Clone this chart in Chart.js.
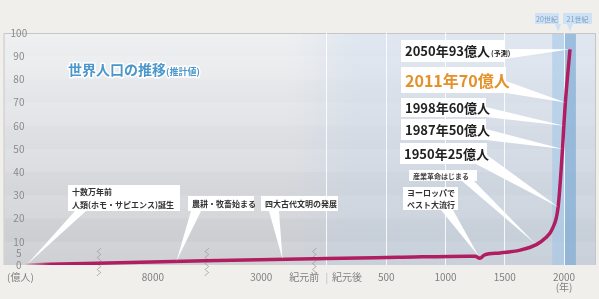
<!DOCTYPE html>
<html>
<head>
<meta charset="utf-8">
<script src="https://cdn.jsdelivr.net/npm/chart.js@4.4.1/dist/chart.umd.min.js"></script>
<style>
  html, body { margin: 0; padding: 0; background: #f0efeb; }
  #wrap { width: 599px; height: 299px; }
</style>
</head>
<body>
<div id="wrap"><canvas id="popChart" width="599" height="299"></canvas></div>
<script>
// World population (億人) by year
const years = [-150000, -20000, -6000, -2000, 0, 600, 1200, 1250, 1290, 1330, 1460, 1630, 1770, 1840, 1900, 1950, 1987, 1998, 2011, 2050];
const population = [0, 0.8, 1.8, 2.7, 2.8, 3.3, 3.8, 3.8, 2.9, 4.4, 5.2, 6.4, 8.9, 11.5, 15.5, 25, 50, 60, 70, 93];

const yTicks = [0, 5, 10, 20, 30, 40, 50, 60, 70, 80, 90, 100];
const xTickValues = [-155500, -8000, -3000, -2190, 0, 170, 500, 1000, 1500, 2000];
const xTickLabels = ['(億人)', '8000', '3000', '紀元前', '|', '紀元後', '500', '1000', '1500', ['2000', '(年)']];
const gridYears = [0, 500, 1000, 1500, 2000];
const breakYears = [-15000, -5000, -2000];

const centuryLabels = ['20世紀', '21世紀'];
const centuryFrom = [1900, 2000];
const centuryTo = [2000, 2100];

// Events pointed at on the curve
const eventTexts = [
  '十数万年前\n人類(ホモ・サピエンス)誕生',
  '農耕・牧畜始まる',
  '四大古代文明の発展',
  'ヨーロッパで\nペスト大流行',
  '産業革命はじまる',
  '1950年25億人',
  '1987年50億人',
  '1998年60億人',
  '2011年70億人',
  '2050年93億人'
];
const eventYears = [-150000, -7100, -2600, 1280, 1760, 1950, 1987, 1998, 2011, 2050];
const eventValues = [0, 1.7, 2.6, 3.8, 9, 25, 50, 60, 70, 93];

// Layout of the callout boxes (pixels)
const calloutLayout = [
  { box: [68, 185, 112, 26], base: [[75, 211], [86, 211]], style: 'small' },
  { box: [188, 196, 66, 15], base: [[191, 211], [201, 211]], style: 'small' },
  { box: [261, 196, 77, 15], base: [[269, 211], [279, 211]], style: 'small' },
  { box: [403, 187, 55, 23], base: [[441, 210], [453, 210]], style: 'small' },
  { box: [409, 170, 68, 11], base: [[462, 181], [474, 181]], style: 'tiny' },
  { box: [400, 143, 87, 21], base: [[476, 164], [487, 155]], style: 'big' },
  { box: [401, 119, 85, 21], base: [[486, 129], [486, 140]], style: 'big' },
  { box: [401, 98, 85, 19], base: [[486, 107], [486, 117]], style: 'big' },
  { box: [401, 67, 105, 26], base: [[506, 81], [506, 93]], style: 'orange' },
  { box: [401, 40, 104, 22], base: [[505, 49], [505, 59]], style: 'big', suffix: '(予測)' }
];
const textStyles = {
  small: { font: 'bold 8px "Noto Sans CJK JP"', color: '#333', lh: 12.5 },
  tiny: { font: 'bold 7px "Noto Sans CJK JP"', color: '#444', lh: 10 },
  big: { font: 'bold 13px "Noto Sans CJK JP"', color: '#222', lh: 15 },
  orange: { font: 'bold 16px "Noto Sans CJK JP"', color: '#e4912a', lh: 18 }
};

// Broken year axis: piecewise linear [year, pixel from left]
const knots = [[-170000, 0], [-150000, 22], [-20000, 93], [-10000, 96], [-6000, 201],
               [-4000, 204], [-2000, 310], [0, 322.7], [2261, 591]];
const knotSpan = knots[knots.length - 1][1];

class BrokenScale extends Chart.LinearScale {
  getPixelForValue(value) {
    let frac = 0;
    if (value <= knots[0][0]) frac = 0;
    else if (value >= knots[knots.length - 1][0]) frac = 1;
    else {
      for (let i = 1; i < knots.length; i++) {
        if (value <= knots[i][0]) {
          const [v0, p0] = knots[i - 1];
          const [v1, p1] = knots[i];
          frac = (p0 + (value - v0) / (v1 - v0) * (p1 - p0)) / knotSpan;
          break;
        }
      }
    }
    return this.left + frac * this.width;
  }
  getValueForPixel(pixel) {
    const p = (pixel - this.left) / this.width * knotSpan;
    for (let i = 1; i < knots.length; i++) {
      if (p <= knots[i][1]) {
        const [v0, p0] = knots[i - 1];
        const [v1, p1] = knots[i];
        return v0 + (p - p0) / (p1 - p0) * (v1 - v0);
      }
    }
    return knots[knots.length - 1][0];
  }
}
BrokenScale.id = 'broken';
Chart.register(BrokenScale);

function lineColor(c) {
  const chart = c.chart;
  const x = chart.scales.x;
  if (!chart.chartArea || !x) return '#b01d60';
  const start = x.getPixelForValue(years[0]);
  const g = chart.ctx.createLinearGradient(start - 2, 0, start + 24, 0);
  g.addColorStop(0, 'rgba(176,29,96,0.1)');
  g.addColorStop(1, '#b01d60');
  return g;
}

const backdrop = {
  id: 'backdrop',
  beforeDraw(chart) {
    const { ctx, chartArea: a, scales: { x, y } } = chart;
    ctx.save();
    ctx.fillStyle = '#f0efeb';
    ctx.fillRect(0, 0, chart.width, chart.height);

    const g = ctx.createLinearGradient(0, a.top, 0, a.bottom);
    g.addColorStop(0, '#eff0f2');
    g.addColorStop(1, '#c8cace');
    ctx.fillStyle = g;
    ctx.fillRect(a.left, a.top, a.width, a.height);

    // soft horizontal bands
    for (let v = 0; v < 100; v += 20) {
      const y1 = y.getPixelForValue(v + 10), y2 = y.getPixelForValue(v);
      ctx.fillStyle = 'rgba(255,255,255,0.13)';
      ctx.fillRect(a.left, y1, a.width, y2 - y1);
    }

    // bluish tint for the AD part
    const x0 = x.getPixelForValue(0);
    const bg = ctx.createLinearGradient(x0 - 40, 0, x0 + 30, 0);
    bg.addColorStop(0, 'rgba(185,208,235,0)');
    bg.addColorStop(1, 'rgba(185,208,235,0.28)');
    ctx.fillStyle = bg;
    ctx.fillRect(x0 - 40, a.top, a.right - x0 + 40, a.height);

    // century columns
    const colColors = ['rgba(160,198,232,0.55)', 'rgba(120,168,212,0.65)'];
    centuryLabels.forEach((lab, i) => {
      const l = x.getPixelForValue(centuryFrom[i]);
      const r = x.getPixelForValue(centuryTo[i]);
      ctx.fillStyle = colColors[i];
      ctx.fillRect(l, a.top, r - l, a.height);
    });

    // frame
    ctx.strokeStyle = '#c6c6c6';
    ctx.lineWidth = 1;
    ctx.beginPath();
    ctx.moveTo(a.left, a.top + 0.5);
    ctx.lineTo(a.right, a.top + 0.5);
    ctx.moveTo(a.left - 0.5, a.top);
    ctx.lineTo(a.left - 0.5, a.bottom);
    ctx.moveTo(a.right + 0.5, a.top);
    ctx.lineTo(a.right + 0.5, a.bottom);
    ctx.stroke();
    ctx.restore();
  },
  beforeDatasetsDraw(chart) {
    const { ctx, chartArea: a, scales: { x } } = chart;
    ctx.save();
    ctx.strokeStyle = '#9a9a9a';
    ctx.lineWidth = 0.8;
    breakYears.forEach(yr => {
      const bx = x.getPixelForValue(yr);
      ctx.beginPath();
      for (let yy = a.bottom - 17; yy <= a.bottom + 11; yy += 0.5) {
        const xx = bx + 1.6 * Math.sin((yy - a.bottom) / 6 * 2 * Math.PI);
        if (yy === a.bottom - 17) ctx.moveTo(xx, yy); else ctx.lineTo(xx, yy);
      }
      ctx.stroke();
    });
    ctx.restore();
  },
  afterDatasetsDraw(chart) {
    const { ctx, chartArea: a, scales: { x, y } } = chart;
    ctx.save();

    // wedges first, then boxes and text
    calloutLayout.forEach((c, i) => {
      const tx = x.getPixelForValue(eventYears[i]);
      const ty = y.getPixelForValue(eventValues[i]);
      ctx.fillStyle = '#ffffff';
      ctx.beginPath();
      ctx.moveTo(c.base[0][0], c.base[0][1]);
      ctx.lineTo(tx, ty);
      ctx.lineTo(c.base[1][0], c.base[1][1]);
      ctx.closePath();
      ctx.fill();
    });
    calloutLayout.forEach((c, i) => {
      const [bx, by, bw, bh] = c.box;
      ctx.fillStyle = '#ffffff';
      ctx.fillRect(bx, by, bw, bh);
      const st = textStyles[c.style];
      const lines = eventTexts[i].split('\n');
      ctx.font = st.font;
      ctx.fillStyle = st.color;
      ctx.textAlign = 'left';
      ctx.textBaseline = 'middle';
      const top = by + bh / 2 - (lines.length - 1) * st.lh / 2;
      lines.forEach((ln, k) => ctx.fillText(ln, bx + 4, top + k * st.lh + 0.5));
      if (c.suffix) {
        const w = ctx.measureText(lines[0]).width;
        ctx.font = 'bold 7px "Noto Sans CJK JP"';
        ctx.fillText(c.suffix, bx + 4 + w + 1, top + 2);
      }
    });

    // century tags in the top band
    const tagBoxes = [[535, 13, 24, 11], [563, 13, 29, 11]];
    centuryLabels.forEach((lab, i) => {
      const cx = (x.getPixelForValue(centuryFrom[i]) + x.getPixelForValue(centuryTo[i])) / 2;
      const [bx, by, bw, bh] = tagBoxes[i];
      ctx.fillStyle = '#cfe2f3';
      ctx.fillRect(bx, by, bw, bh);
      ctx.beginPath();
      ctx.moveTo(cx - 3, by + bh);
      ctx.lineTo(cx + 3, by + bh);
      ctx.lineTo(cx, a.top - 1);
      ctx.closePath();
      ctx.fill();
      ctx.fillStyle = '#7b9fc4';
      ctx.font = '7px "Noto Sans CJK JP"';
      ctx.textAlign = 'center';
      ctx.textBaseline = 'middle';
      ctx.fillText(lab, bx + bw / 2, by + bh / 2 + 0.5);
    });

    // title
    ctx.textAlign = 'left';
    ctx.textBaseline = 'alphabetic';
    ctx.lineJoin = 'round';
    ctx.font = 'bold 14px "Noto Sans CJK JP"';
    ctx.strokeStyle = '#ffffff';
    ctx.lineWidth = 3;
    ctx.strokeText('世界人口の推移', 68, 75);
    ctx.fillStyle = '#4b97cb';
    ctx.fillText('世界人口の推移', 68, 75);
    const tw = ctx.measureText('世界人口の推移').width;
    ctx.font = 'bold 9px "Noto Sans CJK JP"';
    ctx.strokeText('(推計値)', 68 + tw, 75);
    ctx.fillText('(推計値)', 68 + tw, 75);
    ctx.restore();
  }
};

const ctx = document.getElementById('popChart').getContext('2d');
const popChart = new Chart(ctx, {
  type: 'line',
  data: {
    datasets: [{
      data: years.map((yr, i) => ({ x: yr, y: population[i] })),
      borderColor: lineColor,
      borderWidth: 3.5,
      pointRadius: 0,
      cubicInterpolationMode: 'monotone',
      fill: false
    }]
  },
  options: {
    responsive: false,
    animation: false,
    events: [],
    layout: { padding: { top: 33, left: 4, right: 4, bottom: 0 } },
    plugins: { legend: { display: false }, tooltip: { enabled: false } },
    scales: {
      x: {
        type: 'broken',
        min: knots[0][0],
        max: knots[knots.length - 1][0],
        afterFit: s => { s.height = 34; },
        afterBuildTicks: s => { s.ticks = xTickValues.map(v => ({ value: v })); },
        border: { display: false },
        grid: {
          drawTicks: false,
          lineWidth: 1,
          color: c => (c.tick && gridYears.includes(c.tick.value)) ? 'rgba(255,255,255,0.85)' : 'rgba(0,0,0,0)'
        },
        ticks: {
          autoSkip: false,
          maxRotation: 0,
          padding: 7,
          font: { family: '"Noto Sans CJK JP"', size: 10, lineHeight: 1.0 },
          color: c => (c.tick && c.tick.value === 0) ? '#bbbbbb' : '#808080',
          callback: (v, i) => xTickLabels[i]
        }
      },
      y: {
        min: 0,
        max: 100,
        afterFit: s => { s.width = 0; },
        afterBuildTicks: s => { s.ticks = yTicks.map(v => ({ value: v })); },
        border: { display: false },
        grid: { display: false },
        ticks: {
          mirror: true,
          crossAlign: 'center',
          padding: 6,
          font: { family: '"Noto Sans CJK JP"', size: 10 },
          color: '#8a8a8a'
        }
      }
    }
  },
  plugins: [backdrop]
});
</script>
</body>
</html>
